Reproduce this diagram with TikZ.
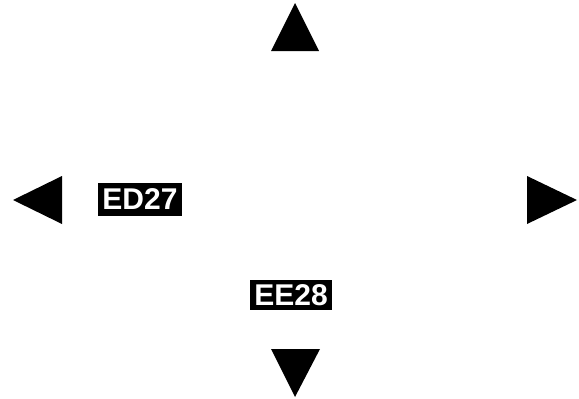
\documentclass[tikz,border=0pt]{standalone}
\usepackage{fontspec}
\setmainfont{Liberation Sans}
\begin{document}
\begin{tikzpicture}[x=1pt,y=-1pt,
  tri/.style={fill=black,draw=none},
  lbl/.style={fill=black,text=white,font=\fontsize{30}{30}\selectfont\bfseries,inner sep=0pt,anchor=center}]
\useasboundingbox (0,0) rectangle (579,399);
\fill[tri] (295,3) -- (319,51) -- (271,51) -- cycle;
\fill[tri] (295,397) -- (320,349) -- (271,349) -- cycle;
\fill[tri] (13,200) -- (62,176) -- (62,224) -- cycle;
\fill[tri] (577,200) -- (527,176) -- (527,224) -- cycle;
\node[lbl,minimum width=84pt,minimum height=33pt] (ed) at (140,199.5) {ED27};
\node[lbl,minimum width=82pt,minimum height=30pt] (ee) at (291,295) {EE28};
\end{tikzpicture}
\end{document}
